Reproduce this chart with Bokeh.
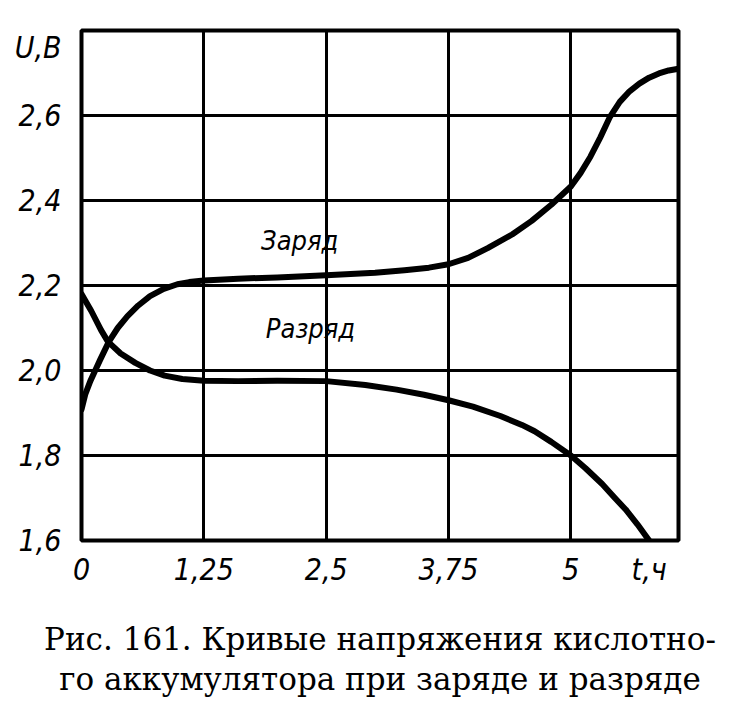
from bokeh.plotting import figure
from bokeh.models import FixedTicker, Title, Range1d
from bokeh.core.properties import value
from bokeh.embed import file_html
from bokeh.resources import INLINE

# --- data ---
charge_t = [0.0, 0.04, 0.09, 0.14, 0.19, 0.28, 0.37, 0.47, 0.58, 0.70, 0.84, 0.98, 1.1, 1.25,
            1.6, 2.0, 2.5, 3.0, 3.3, 3.55, 3.75, 3.95, 4.15, 4.4, 4.6, 4.8, 5.0, 5.1, 5.2, 5.3,
            5.4, 5.5, 5.6, 5.7, 5.8, 5.9, 6.0, 6.1]
charge_u = [1.908, 1.945, 1.975, 2.0, 2.025, 2.068, 2.10, 2.128, 2.153, 2.175, 2.192, 2.203, 2.208, 2.212,
            2.216, 2.219, 2.224, 2.230, 2.236, 2.242, 2.250, 2.265, 2.288, 2.32, 2.352, 2.39, 2.433, 2.465, 2.503, 2.548,
            2.597, 2.632, 2.657, 2.675, 2.689, 2.699, 2.706, 2.71]

discharge_t = [0.0, 0.1, 0.2, 0.27, 0.4, 0.55, 0.7, 0.85, 1.03, 1.25, 1.6, 2.0, 2.5, 2.9, 3.22,
               3.5, 3.75, 4.0, 4.28, 4.5, 4.63, 4.8, 5.0, 5.15, 5.32, 5.45, 5.56, 5.68, 5.8]
discharge_u = [2.18, 2.14, 2.095, 2.068, 2.04, 2.018, 2.0, 1.988, 1.98, 1.976, 1.975, 1.976, 1.975, 1.966, 1.955,
               1.943, 1.93, 1.915, 1.893, 1.872, 1.857, 1.832, 1.80, 1.77, 1.733, 1.70, 1.673, 1.638, 1.60]

x_grid = [1.25, 2.5, 3.75, 5.0]
y_grid = [1.8, 2.0, 2.2, 2.4, 2.6]
x_ticks = [0.0, 1.25, 2.5, 3.75, 5.0, 5.8]
x_tick_labels = ["0", "1,25", "2,5", "3,75", "5", "t,ч"]
y_ticks = [1.6, 1.8, 2.0, 2.2, 2.4, 2.6, 2.76]
y_tick_labels = ["1,6", "1,8", "2,0", "2,2", "2,4", "2,6", "U,В"]

curve_names = ["Заряд", "Разряд"]
caption = ["Рис. 161. Кривые напряжения кислотно-",
           "го аккумулятора при заряде и разряде"]

W, H = 727, 698
p = figure(width=W, height=H, output_backend="svg", toolbar_location=None,
           x_range=Range1d(0, 6.1), y_range=Range1d(1.6, 2.8),
           min_border_left=81, min_border_right=W - 678, min_border_top=30,
           min_border_bottom=H - 540)
p.background_fill_color = "white"
p.border_fill_color = "white"
p.outline_line_color = "black"
p.outline_line_width = 4

for g, ticks in ((p.xgrid, x_grid), (p.ygrid, y_grid)):
    g.ticker = FixedTicker(ticks=ticks)
    g.grid_line_color = "black"
    g.grid_line_width = 3
    g.grid_line_alpha = 1.0

tick_font = "'DejaVu Sans Condensed', 'Liberation Sans'"
for ax, ticks, labels in ((p.xaxis[0], x_ticks, x_tick_labels), (p.yaxis[0], y_ticks, y_tick_labels)):
    ax.ticker = FixedTicker(ticks=ticks)
    ax.major_label_overrides = {t: l for t, l in zip(ticks, labels)}
    ax.axis_line_color = None
    ax.major_tick_line_color = None
    ax.minor_tick_line_color = None
    ax.major_label_text_font = tick_font
    ax.major_label_text_font_style = "italic"
    ax.major_label_text_font_size = "30px"
    ax.major_label_text_color = "black"
p.xaxis[0].major_label_standoff = 5
p.yaxis[0].major_label_standoff = 14
# blank axis label used only as vertical spacing above the caption
p.xaxis[0].axis_label = " "
p.xaxis[0].axis_label_text_font_size = "1px"
p.xaxis[0].axis_label_standoff = 23

p.line(charge_t, charge_u, line_color="black", line_width=6, line_join="round", line_cap="round")
p.line(discharge_t, discharge_u, line_color="black", line_width=6, line_join="round", line_cap="round")

p.text(x=[2.23, 2.34], y=[2.306, 2.099], text=curve_names, text_font=value(tick_font),
       text_font_style="italic", text_font_size="27px", text_align="center",
       text_baseline="middle", text_color="black")

for line, so in zip(caption, (4, 0)):
    p.add_layout(Title(text=line, align="center", text_font="DejaVu Serif",
                       text_font_size="31px", text_font_style="normal", text_color="black",
                       standoff=so), "below")

open("out.html", "w").write(file_html(p, INLINE))
